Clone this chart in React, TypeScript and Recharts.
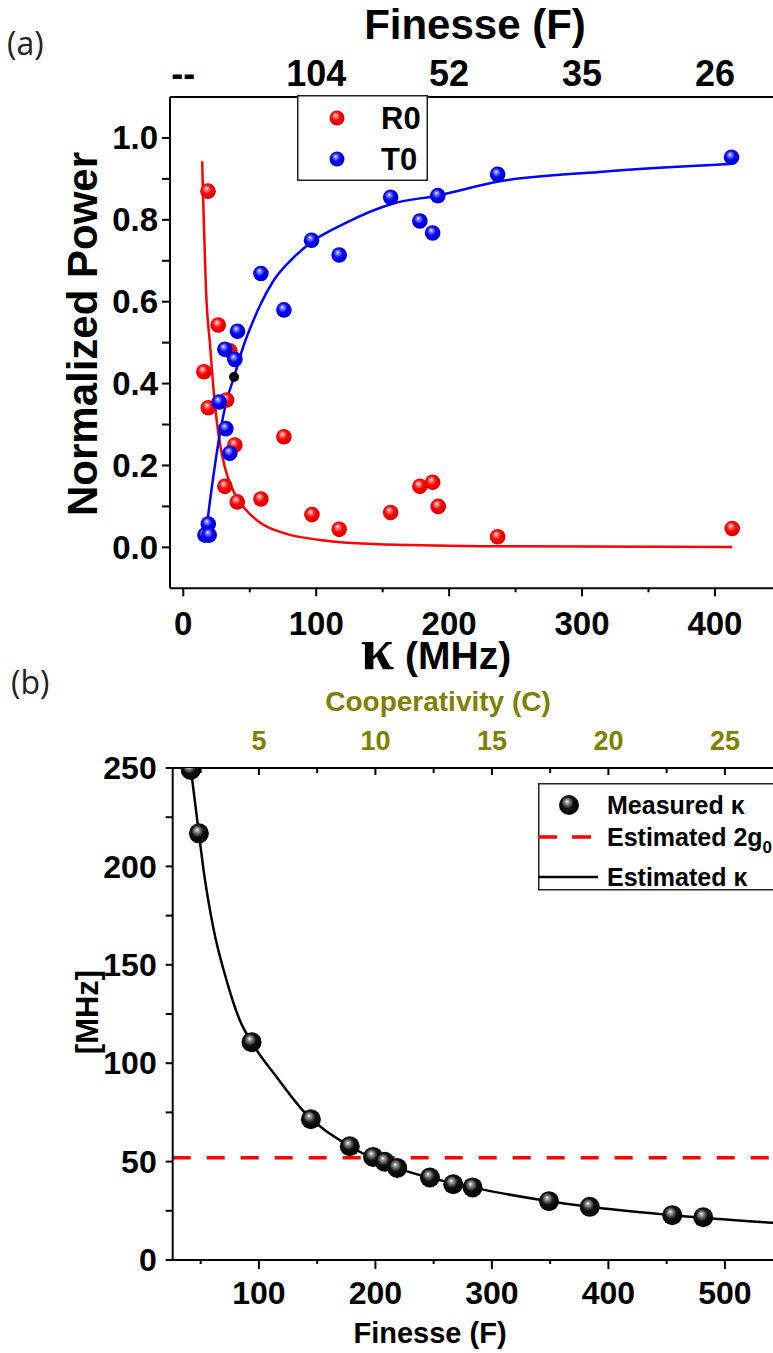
import React from 'react';
import { ComposedChart, Scatter, Line, XAxis, YAxis, ReferenceLine, Legend } from 'recharts';

const FONT = '"Liberation Sans", Arial, sans-serif';
const OLIVE = '#808000';

// ---- (a) normalized reflection / transmission vs cavity linewidth ----
const KAPPA_R0 = [15.5, 18.6, 18.8, 26.3, 31.3, 32.6, 35, 38.8, 40.6, 58.4, 75.7, 96.8, 117.3, 156, 178, 187.6, 191.8, 236.5, 413];
const R0 = [0.429, 0.87, 0.341, 0.543, 0.149, 0.36, 0.48, 0.25, 0.111, 0.118, 0.27, 0.08, 0.044, 0.085, 0.149, 0.159, 0.1, 0.026, 0.046];
const KAPPA_T0 = [16.3, 18.8, 19.5, 27, 31.3, 32, 35, 38.8, 40.8, 58.4, 75.7, 96.5, 117.3, 156, 178, 187.6, 191.5, 236.5, 412.5];
const T0 = [0.03, 0.057, 0.03, 0.355, 0.484, 0.29, 0.23, 0.459, 0.528, 0.669, 0.58, 0.75, 0.714, 0.855, 0.797, 0.768, 0.859, 0.911, 0.953];

// fitted curves
const KAPPA_R_FIT = [14.2, 17.5, 20, 22.5, 26.3, 31.3, 37.6, 47.6, 57.6, 77.7, 102.8, 143, 223, 413];
const R_FIT = [0.943, 0.6, 0.5, 0.395, 0.28, 0.195, 0.138, 0.09, 0.061, 0.033, 0.018, 0.008, 0.003, 0.001];
const KAPPA_T_FIT = [17.2, 22.5, 27.5, 32.6, 38.2, 45.1, 52.6, 57.6, 67.6, 82.7, 96.5, 120, 158, 191, 238, 313, 414];
const T_FIT = [0.04, 0.171, 0.277, 0.358, 0.416, 0.49, 0.553, 0.59, 0.65, 0.707, 0.746, 0.789, 0.84, 0.859, 0.894, 0.917, 0.937];

// operating point marker
const CROSS_KAPPA = [38.2];
const CROSS_POWER = [0.416];

const KAPPA_TICKS = [0, 50, 100, 150, 200, 250, 300, 350, 400];
const KAPPA_MAJOR = [0, 100, 200, 300, 400];
const FINESSE_TOP_TICKS = [0, 100, 200, 300, 400];
const FINESSE_TOP_LABELS = ['--', '104', '52', '35', '26'];
const POWER_TICKS = [0, 0.1, 0.2, 0.3, 0.4, 0.5, 0.6, 0.7, 0.8, 0.9, 1.0];
const POWER_MAJOR = [0, 0.2, 0.4, 0.6, 0.8, 1.0];

// ---- (b) linewidth vs finesse ----
const FINESSE = [41.5, 48.5, 93.7, 144.6, 178, 198, 208, 218.7, 246.8, 266.8, 283.4, 349, 384, 454.8, 481.4];
const KAPPA_MEAS = [249, 216.8, 110.7, 71.5, 57.8, 52.4, 49.9, 46.8, 41.9, 38.5, 36.9, 29.9, 27.0, 22.8, 21.7];
const FINESSE_FIT = [41.5, 45, 48.5, 52.2, 60.8, 72.3, 83.7, 93.7, 115.2, 138, 178, 218.7, 283.4, 349, 384, 454.8, 541.5];
const KAPPA_FIT = [250, 233.3, 216.7, 199.4, 169, 142, 121.7, 110.7, 93, 75.8, 57.8, 46.8, 36.9, 29.9, 27.0, 22.8, 18.9];
const TWO_G0 = 52;

const F_TICKS = [50, 100, 150, 200, 250, 300, 350, 400, 450, 500, 550];
const F_MAJOR = [100, 200, 300, 400, 500];
const COOP_LABELS = ['5', '10', '15', '20', '25'];
const MHZ_TICKS = [0, 25, 50, 75, 100, 125, 150, 175, 200, 225, 250];
const MHZ_MAJOR = [0, 50, 100, 150, 200, 250];

const zip = (xs: number[], ys: number[]) => xs.map((x, i) => ({ x, y: ys[i] }));
const hit = (v: number, list: number[]) => list.findIndex((m) => Math.abs(m - v) < 1e-6);

type TickOpts = {
  side: 'left' | 'bottom' | 'top';
  majors: number[];
  label: (v: number, i: number) => string;
  major: number;
  minor: number;
  offset: number; // distance from axis line to label anchor
  size: number;
  color?: string;
};

function makeTick(o: TickOpts) {
  return (props: any) => {
    const { x, y, payload } = props;
    const v = payload.value;
    const i = hit(v, o.majors);
    const len = i >= 0 ? o.major : o.minor;
    const txt = i >= 0 ? o.label(v, i) : '';
    const textStyle = { fontFamily: FONT, fontWeight: 700, fontSize: o.size, fill: o.color || '#000' };
    if (o.side === 'left') {
      return (
        <g>
          {len > 0 && <line x1={x} y1={y} x2={x - len} y2={y} stroke="#000" strokeWidth={2} />}
          {txt && (
            <text x={x - o.offset} y={y} dy="0.35em" textAnchor="end" style={textStyle}>
              {txt}
            </text>
          )}
        </g>
      );
    }
    if (o.side === 'bottom') {
      return (
        <g>
          {len > 0 && <line x1={x} y1={y} x2={x} y2={y + len} stroke="#000" strokeWidth={2} />}
          {txt && (
            <text x={x} y={y + o.offset} textAnchor="middle" style={textStyle}>
              {txt}
            </text>
          )}
        </g>
      );
    }
    // top: ticks point into the plot
    return (
      <g>
        {len > 0 && <line x1={x} y1={y} x2={x} y2={y + len} stroke="#000" strokeWidth={2} />}
        {txt && (
          <text x={x} y={y - o.offset} textAnchor="middle" style={textStyle}>
            {txt}
          </text>
        )}
      </g>
    );
  };
}

const kappaTick = makeTick({ side: 'bottom', majors: KAPPA_MAJOR, label: (v) => String(v), major: 8, minor: 4, offset: 47, size: 33 });
const finesseTopTick = makeTick({ side: 'top', majors: FINESSE_TOP_TICKS, label: (_, i) => FINESSE_TOP_LABELS[i], major: 0, minor: 0, offset: 11, size: 36 });
const powerTick = makeTick({ side: 'left', majors: POWER_MAJOR, label: (v) => v.toFixed(1), major: 8, minor: 8, offset: 12, size: 33 });

const finesseTick = makeTick({ side: 'bottom', majors: F_MAJOR, label: (v) => String(v), major: 9, minor: 4, offset: 44, size: 32 });
const coopTick = makeTick({ side: 'top', majors: F_MAJOR, label: (_, i) => COOP_LABELS[i], major: 7, minor: 5, offset: 18, size: 27, color: OLIVE });
const mhzTick = makeTick({ side: 'left', majors: MHZ_MAJOR, label: (v) => String(v), major: 7, minor: 7, offset: 16, size: 32 });

const Ball = ({ cx, cy, r, fill }: { cx: number; cy: number; r: number; fill: string }) =>
  cx == null || cy == null ? null : <circle cx={cx} cy={cy} r={r} fill={`url(#${fill})`} />;

function BallGradients() {
  const ball = (id: string, light: string, mid: string, dark: string) => (
    <radialGradient id={id} cx="0.45" cy="0.45" r="0.6" fx="0.4" fy="0.32">
      <stop offset="0" stopColor="#ffffff" />
      <stop offset="0.15" stopColor={light} />
      <stop offset="0.5" stopColor={mid} />
      <stop offset="1" stopColor={dark} />
    </radialGradient>
  );
  return (
    <svg width={0} height={0} style={{ position: 'absolute' }}>
      <defs>
        {ball('ballRed', '#ff9090', '#ff0000', '#cc0000')}
        {ball('ballBlue', '#9090ff', '#0000ff', '#0000b8')}
        {ball('ballBlack', '#a0a0a0', '#101010', '#000000')}
      </defs>
    </svg>
  );
}

const axisLine = { stroke: '#000', strokeWidth: 2 };

function LegendA() {
  const t = { fontFamily: FONT, fontWeight: 700, fontSize: 31 };
  return (
    <svg width={131} height={86} style={{ display: 'block' }}>
      <rect x={0.75} y={0.75} width={129.5} height={84.5} fill="#fff" stroke="#222" strokeWidth={1.5} />
      <circle cx={40} cy={23} r={7.5} fill="url(#ballRed)" />
      <text x={84} y={23} dy="0.35em" style={t}>R0</text>
      <circle cx={40} cy={64} r={7.5} fill="url(#ballBlue)" />
      <text x={84} y={64} dy="0.35em" style={t}>T0</text>
    </svg>
  );
}

function LegendB() {
  const t = { fontFamily: FONT, fontWeight: 700, fontSize: 25 };
  return (
    <svg width={260} height={108} style={{ display: 'block' }}>
      <rect x={0.75} y={0.75} width={300} height={106} fill="#fff" stroke="#222" strokeWidth={1.5} />
      <circle cx={31} cy={22} r={10} fill="url(#ballBlack)" />
      <text x={69} y={22} dy="0.35em" style={t}>Measured κ</text>
      <line x1={0} y1={54} x2={54} y2={54} stroke="#ff0000" strokeWidth={3.5} strokeDasharray="19 15" />
      <text x={69} y={54} dy="0.35em" style={t}>
        Estimated 2g<tspan fontSize={17} dy={7}>0</tspan>
      </text>
      <line x1={0} y1={94} x2={60} y2={94} stroke="#000" strokeWidth={2.5} />
      <text x={69} y={94} dy="0.35em" style={t}>Estimated κ</text>
    </svg>
  );
}

function PanelA() {
  return (
    <ComposedChart width={800} height={680} margin={{ top: 57, right: 18.6, bottom: 41.7, left: 110 }}>
      <XAxis xAxisId="b" type="number" dataKey="x" domain={[-10, 450]} ticks={KAPPA_TICKS} interval={0}
        tickSize={0} tickMargin={0} tickLine={false} tick={kappaTick} axisLine={axisLine} height={50} allowDataOverflow />
      <XAxis xAxisId="t" orientation="top" type="number" dataKey="x" domain={[-10, 450]} ticks={FINESSE_TOP_TICKS}
        interval={0} tickSize={0} tickMargin={0} tickLine={false} tick={finesseTopTick} axisLine={axisLine} height={40} allowDataOverflow />
      <YAxis type="number" dataKey="y" domain={[-0.1, 1.1]} ticks={POWER_TICKS} interval={0}
        tickSize={0} tickMargin={0} tickLine={false} tick={powerTick} axisLine={axisLine} width={60} allowDataOverflow />
      <Scatter xAxisId="b" data={zip(KAPPA_R0, R0)} isAnimationActive={false}
        shape={(p: any) => <Ball cx={p.cx} cy={p.cy} r={7.8} fill="ballRed" />} />
      <Scatter xAxisId="b" data={zip(KAPPA_T0, T0)} isAnimationActive={false}
        shape={(p: any) => <Ball cx={p.cx} cy={p.cy} r={7.8} fill="ballBlue" />} />
      <Line xAxisId="b" data={zip(KAPPA_R_FIT, R_FIT)} dataKey="y" type="monotone" stroke="#ff0000"
        strokeWidth={2.5} dot={false} activeDot={false} isAnimationActive={false} />
      <Line xAxisId="b" data={zip(KAPPA_T_FIT, T_FIT)} dataKey="y" type="monotone" stroke="#0000ff"
        strokeWidth={2.5} dot={false} activeDot={false} isAnimationActive={false} />
      <Scatter xAxisId="b" data={zip(CROSS_KAPPA, CROSS_POWER)} isAnimationActive={false}
        shape={(p: any) => <circle cx={p.cx} cy={p.cy} r={5} fill="#000" />} />
      <Legend layout="vertical" align="center" verticalAlign="middle" content={() => <LegendA />}
        wrapperStyle={{ left: 297, top: 95, width: 131, height: 86 }} />
    </ComposedChart>
  );
}

function PanelB() {
  return (
    <ComposedChart width={800} height={713} margin={{ top: 88, right: 5.2, bottom: 43, left: 112.7 }}>
      <XAxis xAxisId="b" type="number" dataKey="x" domain={[26, 560]} ticks={F_TICKS} interval={0}
        tickSize={0} tickMargin={0} tickLine={false} tick={finesseTick} axisLine={axisLine} height={50} allowDataOverflow />
      <XAxis xAxisId="t" orientation="top" type="number" dataKey="x" domain={[26, 560]} ticks={F_TICKS}
        interval={0} tickSize={0} tickMargin={0} tickLine={false} tick={coopTick} axisLine={axisLine} height={40} allowDataOverflow />
      <YAxis type="number" dataKey="y" domain={[0, 250]} ticks={MHZ_TICKS} interval={0}
        tickSize={0} tickMargin={0} tickLine={false} tick={mhzTick} axisLine={axisLine} width={60} allowDataOverflow />
      <ReferenceLine xAxisId="b" y={TWO_G0} stroke="#ff0000" strokeWidth={3.5} strokeDasharray="18 16" />
      <Line xAxisId="b" data={zip(FINESSE_FIT, KAPPA_FIT)} dataKey="y" type="monotone" stroke="#000"
        strokeWidth={2.5} dot={false} activeDot={false} isAnimationActive={false} />
      <Scatter xAxisId="b" data={zip(FINESSE, KAPPA_MEAS)} isAnimationActive={false}
        shape={(p: any) => <Ball cx={p.cx} cy={p.cy} r={10} fill="ballBlack" />} />
      <Legend layout="vertical" align="center" verticalAlign="middle" content={() => <LegendB />}
        wrapperStyle={{ left: 538, top: 143, width: 260, height: 108 }} />
    </ComposedChart>
  );
}

function Titles() {
  const b = { fontFamily: FONT, fontWeight: 700 };
  const tag = { fontFamily: '"Open Sans", "Noto Sans", sans-serif', fontSize: 32, fill: '#222' };
  return (
    <svg width={773} height={1353} style={{ position: 'absolute', left: 0, top: 0, pointerEvents: 'none' }}>
      <text x={7} y={55} style={tag}>(a)</text>
      <text x={475} y={39} textAnchor="middle" style={{ ...b, fontSize: 42 }}>Finesse (F)</text>
      <text transform="translate(97,334) rotate(-90)" textAnchor="middle" style={{ ...b, fontSize: 42 }}>Normalized Power</text>
      <text x={436} y={669} textAnchor="middle" style={{ ...b, fontSize: 39 }}>
        <tspan style={{ fontFamily: '"Liberation Serif", serif', fontSize: 60 }}>κ</tspan> (MHz)
      </text>

      <text x={11} y={694} style={tag}>(b)</text>
      <text x={438} y={711} textAnchor="middle" style={{ ...b, fontSize: 28, fill: OLIVE }}>Cooperativity (C)</text>
      <text transform="translate(98,1012) rotate(-90)" textAnchor="middle" style={{ ...b, fontSize: 31 }}>[MHz]</text>
      <text x={430} y={1343} textAnchor="middle" style={{ ...b, fontSize: 29 }}>Finesse (F)</text>
    </svg>
  );
}

export default function App() {
  return (
    <div style={{ position: 'absolute', left: 0, top: 0, width: 773, height: 1353, overflow: 'hidden', background: '#fff' }}>
      <BallGradients />
      <div style={{ position: 'absolute', left: 0, top: 0 }}>
        <PanelA />
      </div>
      <div style={{ position: 'absolute', left: 0, top: 640 }}>
        <PanelB />
      </div>
      <Titles />
    </div>
  );
}
